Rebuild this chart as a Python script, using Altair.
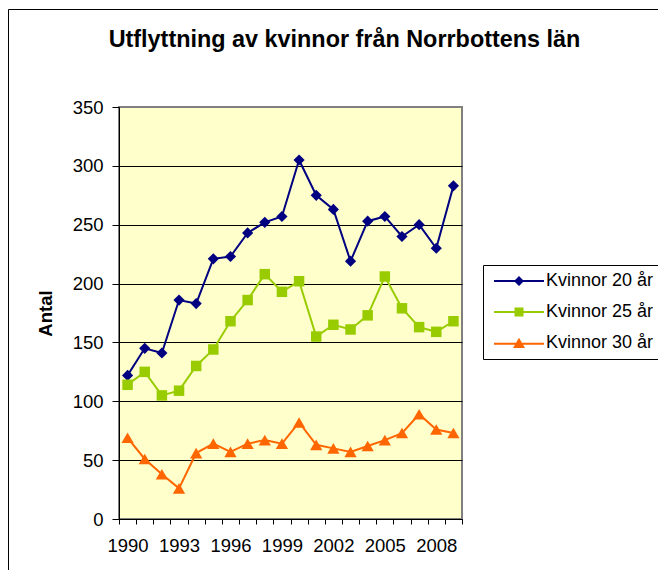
import altair as alt
import pandas as pd

# ---- data ----
years = list(range(1990, 2010))
series_names = ["Kvinnor 20 år", "Kvinnor 25 år", "Kvinnor 30 år"]
k20 = [122, 145, 141, 186, 183, 221, 223, 243, 252, 257, 305, 275, 263, 219, 253, 257, 240, 250, 230, 283]
k25 = [114, 125, 105, 109, 130, 144, 168, 186, 208, 193, 202, 155, 165, 161, 173, 206, 179, 163, 159, 168]
k30 = [69, 51, 38, 26, 56, 64, 57, 64, 67, 64, 82, 63, 60, 57, 62, 67, 73, 89, 76, 73]
y_ticks = [0, 50, 100, 150, 200, 250, 300, 350]

# ---- styles ----
colors = ["#000080", "#99CC00", "#FF6600"]
shapes = ["diamond", "square", "triangle-up"]
sizes = [125, 110, 150]
legend_paths = [
    "M-5,-0.2H5V0.2H-5ZM0,-1L1,0L0,1L-1,0Z",
    "M-5,-0.2H5V0.2H-5ZM-0.9,-0.9H0.9V0.9H-0.9Z",
    "M-5,-0.05H5V0.35H-5ZM0,-1.05L1.2,1L-1.2,1Z",
]
FONT = "Liberation Sans"

rows = []
for name, vals in zip(series_names, [k20, k25, k30]):
    for yr, v in zip(years, vals):
        rows.append({"year": yr, "value": v, "series": name})
df = pd.DataFrame(rows)

x_enc = alt.X(
    "year:O",
    scale=alt.Scale(type="band", paddingInner=0, paddingOuter=0),
    axis=alt.Axis(
        title=None,
        labelExpr="(datum.value - 1990) % 3 == 0 ? datum.label : ''",
        labelAngle=0,
        labelOverlap=False,
        tickBand="extent",
        tickSize=5,
        tickColor="black",
        domainColor="black",
        domainWidth=1,
        labelFontSize=18.5,
        labelColor="black",
        labelPadding=12,
        grid=False,
    ),
)
y_enc = alt.Y(
    "value:Q",
    scale=alt.Scale(domain=[0, 350], nice=False),
    axis=alt.Axis(
        values=y_ticks,
        title="Antal",
        titleFontSize=18.5,
        titleFontWeight="bold",
        titleColor="black",
        titleAngle=-90,
        titleX=-74,
        titleY=206,
        titleAlign="center",
        titleBaseline="middle",
        grid=True,
        gridColor={"condition": {"test": "datum.value == 350", "value": "#808080"}, "value": "black"},
        gridWidth=1,
        tickSize=7,
        tickColor="black",
        domainColor="black",
        labelFontSize=18.5,
        labelColor="black",
        labelPadding=9,
    ),
)

frame = alt.Chart(pd.DataFrame({"k": [0]})).mark_rect(
    fillOpacity=0, stroke="black", strokeWidth=1
).encode(
    x=alt.value(-110.5), x2=alt.value(700), y=alt.value(-97.5), y2=alt.value(600)
)

line_layers = []
point_layers = []
for name, col, shp, sz in zip(series_names, colors, shapes, sizes):
    base = alt.Chart(df).transform_filter(alt.datum.series == name)
    line_layers.append(
        base.mark_line(strokeWidth=2, color=col).encode(x=x_enc, y=y_enc)
    )
    point_layers.append(
        base.mark_point(filled=True, shape=shp, size=sz, opacity=1, color=col).encode(x=x_enc, y=y_enc)
    )

leg_kwargs = dict(
    title=None,
    orient="none",
    legendX=364,
    legendY=158,
    padding=7,
    strokeColor="black",
    fillColor="white",
    cornerRadius=0,
    labelFont=FONT,
    labelFontSize=18,
    labelColor="black",
    symbolSize=100,
    symbolStrokeWidth=0,
    symbolOpacity=1,
    symbolOffset=20,
    labelOffset=18,
    rowPadding=13,
)
legend_layer = alt.Chart(df).mark_point(filled=True, opacity=0).encode(
    x=x_enc, y=y_enc,
    color=alt.Color("series:N", scale=alt.Scale(domain=series_names, range=colors),
                    legend=alt.Legend(**leg_kwargs)),
    shape=alt.Shape("series:N", scale=alt.Scale(domain=series_names, range=legend_paths),
                    legend=alt.Legend(**leg_kwargs)),
)

chart = alt.layer(frame, *line_layers, *point_layers, legend_layer).properties(
    width=343,
    height=412,
    title=alt.TitleParams(
        "Utflyttning av kvinnor från Norrbottens län",
        fontSize=23.4,
        fontWeight="bold",
        font=FONT,
        color="black",
        anchor="middle",
        frame="group",
        baseline="alphabetic",
        offset=-61,
        dx=54,
    ),
    padding={"left": 111, "top": 99, "right": 196, "bottom": 51},
    autosize=alt.AutoSizeParams(type="none"),
).configure(
    font=FONT,
).configure_view(
    fill="#FFFFCC", stroke="#808080", strokeWidth=2
)

chart.save("out.html", embed_options={"renderer": "svg", "actions": False})
